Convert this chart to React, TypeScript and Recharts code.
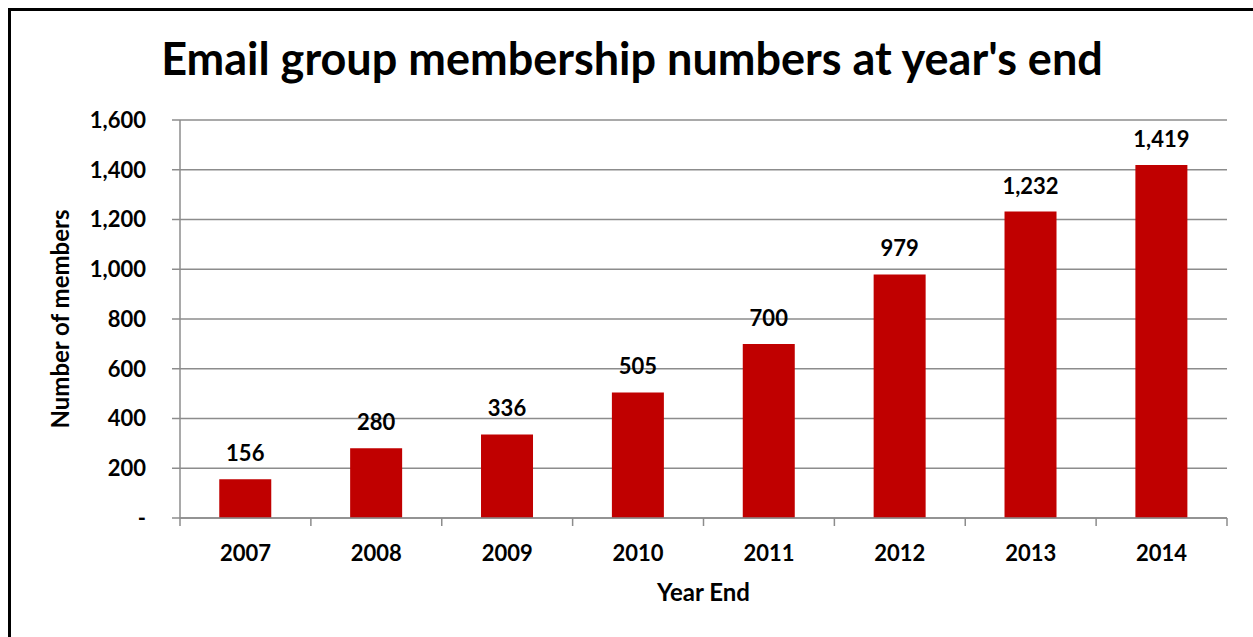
import { BarChart, Bar, XAxis, YAxis, CartesianGrid, LabelList } from 'recharts';

const years = ['2007', '2008', '2009', '2010', '2011', '2012', '2013', '2014'];
const members = [156, 280, 336, 505, 700, 979, 1232, 1419];
const yTicks = [0, 200, 400, 600, 800, 1000, 1200, 1400, 1600];

const data = years.map((year, i) => ({ year, members: members[i] }));

const font = 'Lato, "Open Sans", sans-serif';
const grid = '#8c8c8c';
const fmt = (v: number) => (v === 0 ? '-' : v.toLocaleString('en-US'));

const W = 1242;
const H = 626;
const margin = { top: 109, right: 26, bottom: 39, left: 39 };
const yAxisW = 130;
const band = (W - margin.left - margin.right - yAxisW) / years.length;

// year label at the band centre, tick marks on the band borders (Excel style)
function YearTick(props: any) {
  const { x, y, payload, index } = props;
  const left = x - band / 2;
  return (
    <g>
      <line x1={left} x2={left} y1={y} y2={y + 8} stroke={grid} strokeWidth={1.5} />
      {index === years.length - 1 && (
        <line x1={left + band} x2={left + band} y1={y} y2={y + 8} stroke={grid} strokeWidth={1.5} />
      )}
      <text
        x={x}
        y={y + 34}
        textAnchor="middle"
        dominantBaseline="central"
        fontSize={22}
        fontWeight={700}
        fill="#000"
        fontFamily={font}
      >
        {payload.value}
      </text>
    </g>
  );
}

export default function App() {
  return (
    <div style={{ position: 'fixed', left: 0, top: 0, width: 1253, height: 637, overflow: 'hidden', background: '#fff' }}>
      <div
        style={{
          position: 'absolute',
          left: 8,
          top: 8,
          width: 1245,
          height: 629,
          borderLeft: '3px solid #000',
          borderTop: '3px solid #000',
          boxSizing: 'border-box',
          background: '#fff',
          fontFamily: font,
        }}
      >
        <div
          style={{
            position: 'absolute',
            left: 0,
            width: W,
            top: 20,
            textAlign: 'center',
            fontSize: 45,
            fontWeight: 700,
            color: '#000',
            lineHeight: '54px',
          }}
        >
          Email group membership numbers at year's end
        </div>
        <BarChart width={W} height={H} data={data} margin={margin} barCategoryGap="30%">
          <CartesianGrid vertical={false} stroke={grid} strokeWidth={1.5} />
          <XAxis
            dataKey="year"
            height={80}
            interval={0}
            axisLine={{ stroke: grid, strokeWidth: 1.5 }}
            tickLine={false}
            tickSize={0}
            tickMargin={0}
            tick={<YearTick />}
            label={{
              value: 'Year End',
              position: 'insideBottom',
              offset: -3,
              style: { fontSize: 24, fontWeight: 700, fill: '#000', fontFamily: font },
            }}
          />
          <YAxis
            width={yAxisW}
            domain={[0, 1600]}
            ticks={yTicks}
            interval={0}
            tickFormatter={fmt}
            axisLine={{ stroke: grid, strokeWidth: 1.5 }}
            tickLine={{ stroke: grid, strokeWidth: 1.5 }}
            tickSize={8}
            tickMargin={26}
            tick={{ fontSize: 22, fontWeight: 700, fill: '#000', fontFamily: font }}
            label={{
              value: 'Number of members',
              angle: -90,
              position: 'insideLeft',
              offset: 10,
              style: { fontSize: 24, fontWeight: 700, fill: '#000', fontFamily: font, textAnchor: 'middle' },
            }}
          />
          <Bar dataKey="members" fill="#c00000" isAnimationActive={false}>
            <LabelList
              dataKey="members"
              position="top"
              offset={18}
              formatter={(v: any) => fmt(Number(v))}
              style={{ fontSize: 22, fontWeight: 700, fill: '#000', fontFamily: font }}
            />
          </Bar>
        </BarChart>
      </div>
    </div>
  );
}
